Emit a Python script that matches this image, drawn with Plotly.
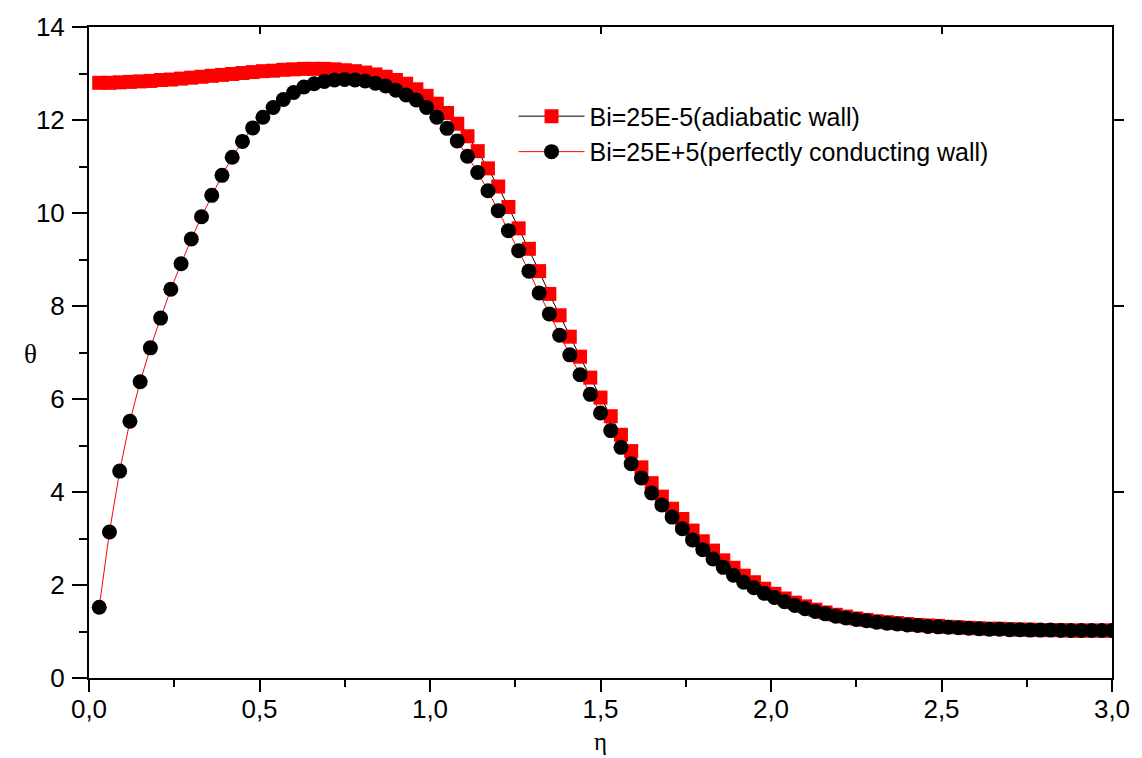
import plotly.graph_objects as go

# sampling grid of eta (0.03 .. 3.00)
eta = [round(0.03 * k, 2) for k in range(1, 101)]

theta_adiabatic = [
    12.80, 12.80, 12.81, 12.82, 12.83, 12.84, 12.86, 12.87, 12.89, 12.91,
    12.93, 12.95, 12.97, 12.99, 13.01, 13.03, 13.05, 13.06, 13.08, 13.09,
    13.10, 13.10, 13.10, 13.09, 13.07, 13.05, 13.02, 12.98, 12.93, 12.86,
    12.78, 12.66, 12.52, 12.35, 12.15, 11.92, 11.65, 11.33, 10.96, 10.57,
    10.13, 9.67, 9.23, 8.75, 8.26, 7.80, 7.34, 6.91, 6.46, 6.03,
    5.63, 5.23, 4.88, 4.53, 4.19, 3.90, 3.64, 3.42, 3.17, 2.94,
    2.74, 2.53, 2.37, 2.20, 2.06, 1.92, 1.81, 1.71, 1.62, 1.54,
    1.47, 1.41, 1.36, 1.32, 1.28, 1.25, 1.22, 1.20, 1.18, 1.16,
    1.14, 1.13, 1.12, 1.10, 1.09, 1.08, 1.07, 1.06, 1.06, 1.05,
    1.04, 1.04, 1.03, 1.03, 1.03, 1.02, 1.02, 1.02, 1.02, 1.02,
]

theta_conducting = [
    1.52, 3.14, 4.45, 5.52, 6.37, 7.10, 7.74, 8.36, 8.91, 9.44,
    9.92, 10.38, 10.81, 11.20, 11.54, 11.83, 12.06, 12.27, 12.44, 12.59,
    12.71, 12.78, 12.83, 12.86, 12.87, 12.86, 12.84, 12.79, 12.73, 12.64,
    12.54, 12.43, 12.27, 12.06, 11.82, 11.55, 11.22, 10.87, 10.48, 10.05,
    9.62, 9.19, 8.75, 8.28, 7.83, 7.37, 6.95, 6.52, 6.10, 5.70,
    5.32, 4.96, 4.61, 4.30, 3.98, 3.72, 3.46, 3.21, 2.97, 2.76,
    2.56, 2.38, 2.21, 2.06, 1.94, 1.82, 1.73, 1.64, 1.56, 1.49,
    1.43, 1.38, 1.33, 1.29, 1.26, 1.23, 1.20, 1.18, 1.16, 1.14,
    1.13, 1.11, 1.10, 1.09, 1.08, 1.07, 1.06, 1.05, 1.05, 1.04,
    1.04, 1.03, 1.03, 1.03, 1.02, 1.02, 1.02, 1.02, 1.02, 1.02,
]

name_adiabatic = "Bi=25E-5(adiabatic wall)"
name_conducting = "Bi=25E+5(perfectly conducting wall)"

FONT = "Liberation Sans, Arial, sans-serif"
SERIF = "Liberation Serif, Times New Roman, serif"

fig = go.Figure()
fig.add_trace(go.Scatter(
    x=eta, y=theta_adiabatic, name=name_adiabatic, mode="lines+markers",
    line=dict(color="black", width=1),
    marker=dict(symbol="square", size=14, color="#ff0000"),
))
fig.add_trace(go.Scatter(
    x=eta, y=theta_conducting, name=name_conducting, mode="lines+markers",
    line=dict(color="#ff0000", width=1),
    marker=dict(symbol="circle", size=15, color="black"),
))
# empty trace so the mirror axes are drawn
fig.add_trace(go.Scatter(x=[None], y=[None], xaxis="x2", yaxis="y2",
                         showlegend=False, hoverinfo="skip"))

fig.update_layout(
    width=1142, height=758,
    margin=dict(l=89, r=25, t=23, b=80),
    paper_bgcolor="white", plot_bgcolor="white",
    separators=",.",
    font=dict(family=FONT, size=24, color="black"),
    showlegend=True,
    legend=dict(x=0.415, y=0.898, xanchor="left", yanchor="top",
                bgcolor="rgba(0,0,0,0)", borderwidth=0,
                font=dict(family=FONT, size=25, color="black"),
                itemwidth=66, tracegroupgap=0),
    xaxis=dict(range=[0, 3], tick0=0, dtick=0.5, tickformat=".1f",
               ticks="outside", ticklen=12, tickwidth=2, tickcolor="black",
               minor=dict(ticks="outside", ticklen=7, tickwidth=2, dtick=0.25,
                          tickcolor="black", showgrid=False),
               showline=True, linewidth=2, linecolor="black",
               showgrid=False, zeroline=False, ticklabelstandoff=-5,
               tickfont=dict(family=FONT, size=26)),
    yaxis=dict(range=[0, 14], tick0=0, dtick=2, tickformat="d",
               ticks="outside", ticklen=15, tickwidth=2, tickcolor="black",
               minor=dict(ticks="outside", ticklen=8, tickwidth=2, dtick=1,
                          tickcolor="black", showgrid=False),
               showline=True, linewidth=2, linecolor="black",
               showgrid=False, zeroline=False, ticklabelstandoff=2,
               tickfont=dict(family=FONT, size=26)),
    xaxis2=dict(overlaying="x", side="top", anchor="y", range=[0, 3],
                tickmode="array", tickvals=[0.5, 1.5, 2.5],
                ticks="inside", ticklen=7, tickwidth=2, tickcolor="black",
                showticklabels=False, showline=True, linewidth=2,
                linecolor="black", showgrid=False, zeroline=False),
    yaxis2=dict(overlaying="y", side="right", anchor="x", range=[0, 14],
                tickmode="array", tickvals=[4, 8, 12],
                ticks="outside", ticklen=10, tickwidth=2, tickcolor="black",
                showticklabels=False, showline=True, linewidth=2,
                linecolor="black", showgrid=False, zeroline=False),
    annotations=[
        dict(text="η", xref="paper", yref="paper", x=0.5, y=-0.097,
             xanchor="center", yanchor="middle", showarrow=False,
             font=dict(family=SERIF, size=25, color="black")),
        dict(text="θ", xref="paper", yref="paper", x=-0.0574, y=0.498,
             xanchor="center", yanchor="middle", showarrow=False,
             font=dict(family=SERIF, size=27, color="black")),
    ],
)

fig.write_html("out.html")
